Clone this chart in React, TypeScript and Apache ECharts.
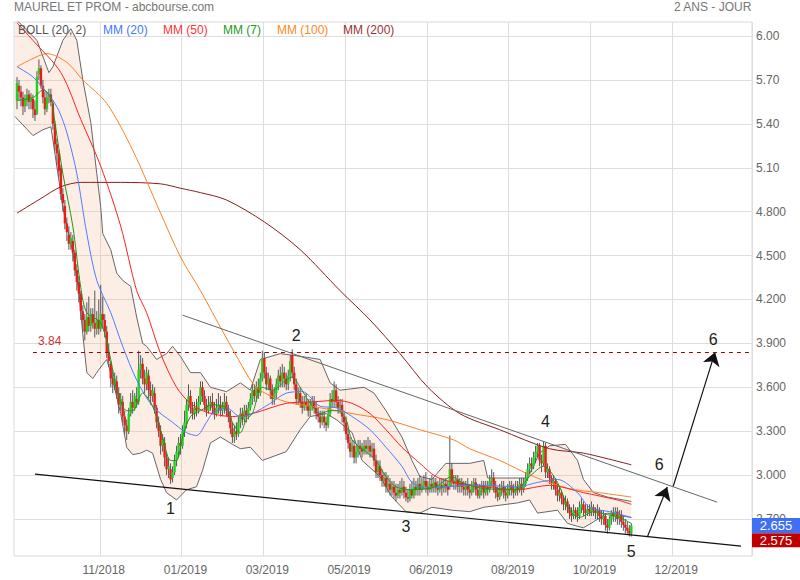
import React, { useEffect, useRef } from "react";
import * as echarts from "echarts";

// ---------- texts ----------
const chartTitle = "MAUREL ET PROM - abcbourse.com";
const periodText = "2 ANS - JOUR";
const legendNames = ["BOLL (20, 2)", "MM (20)", "MM (50)", "MM (7)", "MM (100)", "MM (200)"];

// ---------- axes ----------
const categoryCount = 370; // trading-day slots (data + future)
const xTickIndex = [43, 84, 125, 166, 207, 248, 289, 330];
const xTickLabels = ["11/2018", "01/2019", "03/2019", "05/2019", "06/2019", "08/2019", "10/2019", "12/2019"];
const yTicks = [2.7, 3.0, 3.3, 3.6, 3.9, 4.2, 4.5, 4.8, 5.1, 5.4, 5.7, 6.0];
const yMin = 2.447;
const yMax = 6.096;

// ---------- candles [open, close, low, high], first at slot candleStart ----------
const candleStart = 1;
const candles: number[][] = [
  // 1-18
  [5.56, 5.68, 5.50, 5.72], [5.66, 5.62, 5.56, 5.70], [5.62, 5.58, 5.52, 5.66], [5.58, 5.52, 5.46, 5.62],
  [5.52, 5.57, 5.48, 5.60], [5.56, 5.60, 5.52, 5.64], [5.60, 5.55, 5.50, 5.63], [5.55, 5.58, 5.50, 5.61],
  [5.57, 5.50, 5.44, 5.60], [5.50, 5.46, 5.42, 5.56], [5.47, 5.72, 5.46, 5.76], [5.74, 5.78, 5.70, 5.84],
  [5.78, 5.66, 5.64, 5.80], [5.66, 5.58, 5.54, 5.70], [5.58, 5.50, 5.46, 5.62], [5.50, 5.58, 5.48, 5.62],
  [5.58, 5.60, 5.54, 5.64], [5.60, 5.55, 5.52, 5.64],
  // 19-34
  [5.54, 5.40, 5.36, 5.56], [5.40, 5.26, 5.22, 5.42], [5.26, 5.20, 5.12, 5.30], [5.20, 5.08, 5.04, 5.22],
  [5.10, 4.92, 4.88, 5.12], [4.92, 4.86, 4.80, 4.96], [4.84, 4.72, 4.68, 4.88], [4.72, 4.66, 4.60, 4.76],
  [4.64, 4.58, 4.54, 4.70], [4.58, 4.62, 4.54, 4.66], [4.60, 4.52, 4.46, 4.64], [4.52, 4.40, 4.36, 4.54],
  [4.40, 4.32, 4.26, 4.44], [4.32, 4.24, 4.18, 4.36], [4.24, 4.12, 4.06, 4.26], [4.12, 4.06, 3.98, 4.16],
  // 35-45
  [4.06, 3.98, 3.92, 4.10], [3.98, 4.08, 3.96, 4.18], [4.08, 4.02, 3.98, 4.22], [4.02, 4.10, 3.98, 4.14],
  [4.10, 4.04, 4.00, 4.14], [4.04, 4.00, 3.94, 4.26], [4.00, 4.06, 3.96, 4.12], [4.06, 4.00, 3.96, 4.20],
  [4.00, 4.10, 3.98, 4.30], [4.10, 4.06, 4.00, 4.22], [4.06, 3.98, 3.94, 4.10],
  // 46-57
  [3.98, 3.84, 3.80, 4.02], [3.84, 3.78, 3.74, 3.90], [3.76, 3.66, 3.60, 3.78], [3.66, 3.62, 3.56, 3.72],
  [3.62, 3.66, 3.58, 3.70], [3.64, 3.56, 3.52, 3.68], [3.56, 3.48, 3.42, 3.60], [3.48, 3.52, 3.44, 3.56],
  [3.50, 3.40, 3.36, 3.54], [3.40, 3.34, 3.28, 3.44], [3.34, 3.30, 3.24, 3.38], [3.30, 3.42, 3.28, 3.46],
  // 58-72
  [3.42, 3.50, 3.40, 3.56], [3.50, 3.46, 3.42, 3.58], [3.46, 3.54, 3.44, 3.56], [3.52, 3.50, 3.46, 3.60],
  [3.50, 3.72, 3.48, 3.85], [3.72, 3.76, 3.66, 3.82], [3.76, 3.66, 3.62, 3.80], [3.66, 3.62, 3.56, 3.72],
  [3.62, 3.70, 3.58, 3.74], [3.68, 3.58, 3.52, 3.72], [3.58, 3.54, 3.48, 3.64], [3.54, 3.58, 3.50, 3.62],
  [3.56, 3.46, 3.42, 3.60], [3.46, 3.36, 3.32, 3.48], [3.36, 3.30, 3.26, 3.40],
  // 73-80
  [3.30, 3.20, 3.14, 3.34], [3.20, 3.24, 3.16, 3.28], [3.22, 3.12, 3.06, 3.26], [3.12, 3.04, 3.00, 3.16],
  [3.04, 3.06, 2.98, 3.12], [3.04, 2.97, 2.94, 3.08], [2.98, 3.02, 2.95, 3.06], [3.02, 3.10, 3.00, 3.14],
  // 81-95
  [3.10, 3.16, 3.06, 3.20], [3.16, 3.22, 3.12, 3.26], [3.22, 3.20, 3.14, 3.28], [3.20, 3.30, 3.18, 3.34],
  [3.30, 3.36, 3.26, 3.44], [3.36, 3.48, 3.32, 3.52], [3.48, 3.54, 3.44, 3.62], [3.54, 3.46, 3.42, 3.58],
  [3.46, 3.42, 3.38, 3.50], [3.42, 3.46, 3.38, 3.50], [3.46, 3.44, 3.40, 3.52], [3.44, 3.50, 3.42, 3.54],
  [3.50, 3.60, 3.48, 3.64], [3.60, 3.54, 3.50, 3.64], [3.54, 3.48, 3.44, 3.58],
  // 96-107
  [3.48, 3.44, 3.40, 3.52], [3.44, 3.48, 3.42, 3.54], [3.48, 3.50, 3.44, 3.54], [3.50, 3.46, 3.42, 3.56],
  [3.46, 3.42, 3.38, 3.50], [3.42, 3.46, 3.40, 3.52], [3.46, 3.48, 3.42, 3.56], [3.48, 3.44, 3.40, 3.54],
  [3.44, 3.47, 3.40, 3.50], [3.46, 3.50, 3.42, 3.56], [3.50, 3.44, 3.40, 3.54], [3.44, 3.40, 3.36, 3.48],
  // 108-118
  [3.40, 3.32, 3.28, 3.44], [3.32, 3.26, 3.22, 3.36], [3.26, 3.30, 3.22, 3.34], [3.30, 3.28, 3.24, 3.36],
  [3.28, 3.36, 3.26, 3.40], [3.36, 3.42, 3.32, 3.46], [3.42, 3.38, 3.34, 3.46], [3.38, 3.44, 3.36, 3.48],
  [3.44, 3.40, 3.36, 3.48], [3.40, 3.46, 3.38, 3.50], [3.46, 3.52, 3.44, 3.56],
  // 119-140
  [3.52, 3.58, 3.48, 3.62], [3.58, 3.54, 3.50, 3.62], [3.54, 3.60, 3.50, 3.64], [3.60, 3.56, 3.52, 3.66],
  [3.56, 3.66, 3.54, 3.70], [3.66, 3.80, 3.64, 3.85], [3.80, 3.70, 3.66, 3.84], [3.70, 3.62, 3.58, 3.74],
  [3.62, 3.66, 3.58, 3.70], [3.66, 3.58, 3.52, 3.68], [3.58, 3.52, 3.48, 3.62], [3.52, 3.56, 3.48, 3.60],
  [3.56, 3.62, 3.52, 3.66], [3.62, 3.68, 3.58, 3.72], [3.68, 3.64, 3.60, 3.74], [3.64, 3.70, 3.60, 3.76],
  [3.70, 3.66, 3.60, 3.74], [3.66, 3.62, 3.58, 3.70], [3.62, 3.68, 3.58, 3.72], [3.68, 3.78, 3.64, 3.82],
  [3.82, 3.70, 3.66, 3.86], [3.70, 3.62, 3.58, 3.74],
  // 141-165
  [3.62, 3.52, 3.48, 3.66], [3.52, 3.56, 3.48, 3.60], [3.56, 3.50, 3.46, 3.60], [3.50, 3.46, 3.42, 3.54],
  [3.46, 3.50, 3.44, 3.54], [3.50, 3.48, 3.44, 3.56], [3.48, 3.44, 3.40, 3.52], [3.44, 3.48, 3.40, 3.52],
  [3.48, 3.50, 3.44, 3.54], [3.50, 3.46, 3.42, 3.54], [3.46, 3.42, 3.38, 3.50], [3.42, 3.40, 3.36, 3.46],
  [3.40, 3.36, 3.32, 3.44], [3.36, 3.40, 3.34, 3.44], [3.40, 3.36, 3.32, 3.44], [3.36, 3.34, 3.30, 3.40],
  [3.34, 3.42, 3.32, 3.46], [3.42, 3.52, 3.40, 3.56], [3.52, 3.50, 3.46, 3.58], [3.50, 3.58, 3.46, 3.64],
  [3.58, 3.50, 3.46, 3.62], [3.50, 3.46, 3.42, 3.54], [3.46, 3.48, 3.42, 3.52], [3.48, 3.40, 3.36, 3.52],
  [3.40, 3.36, 3.30, 3.44],
  // 166-190
  [3.36, 3.28, 3.24, 3.40], [3.28, 3.22, 3.18, 3.32], [3.22, 3.16, 3.12, 3.26], [3.16, 3.20, 3.12, 3.24],
  [3.20, 3.12, 3.08, 3.24], [3.12, 3.16, 3.08, 3.20], [3.16, 3.20, 3.12, 3.24], [3.20, 3.18, 3.14, 3.24],
  [3.18, 3.16, 3.12, 3.22], [3.16, 3.20, 3.14, 3.24], [3.20, 3.18, 3.14, 3.24], [3.18, 3.20, 3.14, 3.26],
  [3.20, 3.16, 3.12, 3.24], [3.16, 3.18, 3.12, 3.22], [3.18, 3.10, 3.06, 3.22], [3.10, 3.02, 2.98, 3.14],
  [3.02, 3.06, 2.98, 3.10], [3.06, 3.00, 2.96, 3.10], [3.00, 2.96, 2.92, 3.04], [2.96, 2.98, 2.92, 3.02],
  [2.98, 2.92, 2.88, 3.02], [2.92, 2.94, 2.88, 3.00], [2.94, 2.90, 2.86, 2.98], [2.90, 2.92, 2.86, 2.96],
  [2.92, 2.88, 2.84, 2.96],
  // 191-217
  [2.88, 2.86, 2.82, 2.94], [2.86, 2.90, 2.84, 2.94], [2.90, 2.88, 2.84, 2.96], [2.88, 2.92, 2.86, 2.98],
  [2.92, 2.88, 2.84, 2.96], [2.88, 2.85, 2.82, 2.92], [2.85, 2.84, 2.81, 2.90], [2.84, 2.90, 2.82, 2.94],
  [2.90, 2.86, 2.84, 2.96], [2.86, 2.92, 2.84, 2.98], [2.92, 2.90, 2.86, 2.96], [2.90, 2.94, 2.86, 2.98],
  [2.94, 2.90, 2.86, 3.00], [2.90, 2.93, 2.88, 2.98], [2.93, 2.96, 2.90, 3.00], [2.96, 2.92, 2.88, 3.02],
  [2.92, 2.90, 2.86, 2.96], [2.90, 2.94, 2.88, 2.98], [2.94, 2.92, 2.88, 3.00], [2.92, 2.95, 2.88, 2.98],
  [2.95, 2.92, 2.88, 2.98], [2.92, 2.90, 2.86, 2.96], [2.90, 2.93, 2.88, 2.98], [2.93, 2.91, 2.86, 2.98],
  [2.91, 2.94, 2.88, 2.98], [2.94, 2.92, 2.88, 2.98], [2.92, 2.90, 2.86, 2.96],
  // 218-256
  [2.92, 3.04, 2.90, 3.27], [3.04, 2.96, 2.92, 3.08], [2.96, 2.94, 2.90, 3.00], [2.94, 2.97, 2.90, 3.00],
  [2.97, 2.92, 2.88, 3.00], [2.92, 2.95, 2.88, 2.98], [2.95, 2.92, 2.88, 2.98], [2.92, 2.90, 2.86, 2.96],
  [2.90, 2.93, 2.86, 2.96], [2.93, 2.90, 2.86, 2.98], [2.90, 2.88, 2.84, 2.94], [2.88, 2.92, 2.86, 2.96],
  [2.92, 2.95, 2.88, 2.98], [2.95, 2.90, 2.86, 2.98], [2.90, 2.86, 2.84, 2.94], [2.86, 2.90, 2.84, 2.94],
  [2.90, 2.93, 2.86, 2.96], [2.93, 2.88, 2.84, 2.96], [2.88, 2.92, 2.86, 2.96], [2.92, 2.90, 2.86, 2.96],
  [2.90, 2.96, 2.88, 3.00], [2.96, 2.98, 2.92, 3.04], [2.98, 2.92, 2.88, 3.02], [2.92, 2.88, 2.84, 2.96],
  [2.88, 2.85, 2.82, 2.92], [2.85, 2.90, 2.83, 2.94], [2.90, 2.92, 2.86, 2.96], [2.92, 2.88, 2.84, 2.96],
  [2.88, 2.86, 2.82, 2.92], [2.86, 2.90, 2.84, 2.94], [2.90, 2.93, 2.86, 2.96], [2.93, 2.90, 2.86, 2.96],
  [2.90, 2.88, 2.84, 2.94], [2.88, 2.92, 2.86, 2.96], [2.92, 2.90, 2.86, 2.96], [2.90, 2.94, 2.88, 2.98],
  [2.94, 2.90, 2.86, 2.98], [2.90, 2.94, 2.88, 2.98], [2.94, 2.98, 2.92, 3.02],
  // 257-268
  [2.98, 3.04, 2.96, 3.08], [3.04, 3.08, 3.00, 3.12], [3.08, 3.06, 3.02, 3.12], [3.06, 3.12, 3.04, 3.16],
  [3.12, 3.16, 3.08, 3.20], [3.16, 3.20, 3.12, 3.22], [3.20, 3.10, 3.06, 3.22], [3.10, 3.08, 3.02, 3.14],
  [3.08, 3.20, 3.06, 3.23], [3.20, 3.02, 2.98, 3.22], [3.02, 3.04, 2.98, 3.08], [3.04, 2.98, 2.94, 3.06],
  // 269-282
  [2.98, 2.94, 2.90, 3.00], [2.94, 2.96, 2.90, 3.00], [2.96, 2.90, 2.86, 2.98], [2.90, 2.86, 2.82, 2.94],
  [2.86, 2.88, 2.82, 2.92], [2.88, 2.84, 2.80, 2.90], [2.84, 2.80, 2.76, 2.86], [2.80, 2.82, 2.76, 2.86],
  [2.82, 2.78, 2.74, 2.84], [2.78, 2.74, 2.70, 2.80], [2.74, 2.72, 2.68, 2.78], [2.72, 2.76, 2.70, 2.80],
  [2.76, 2.74, 2.70, 2.78], [2.74, 2.72, 2.68, 2.78],
  // 283-309
  [2.72, 2.78, 2.70, 2.82], [2.78, 2.80, 2.74, 2.84], [2.80, 2.76, 2.72, 2.82], [2.76, 2.74, 2.70, 2.80],
  [2.74, 2.77, 2.72, 2.80], [2.77, 2.75, 2.72, 2.80], [2.75, 2.78, 2.72, 2.82], [2.78, 2.76, 2.72, 2.80],
  [2.76, 2.74, 2.70, 2.78], [2.74, 2.76, 2.70, 2.80], [2.76, 2.72, 2.68, 2.78], [2.72, 2.70, 2.66, 2.76],
  [2.70, 2.72, 2.66, 2.76], [2.72, 2.66, 2.62, 2.74], [2.66, 2.64, 2.60, 2.70], [2.64, 2.70, 2.62, 2.72],
  [2.70, 2.74, 2.66, 2.76], [2.74, 2.72, 2.68, 2.78], [2.72, 2.75, 2.68, 2.78], [2.75, 2.70, 2.66, 2.78],
  [2.70, 2.73, 2.66, 2.76], [2.73, 2.68, 2.64, 2.76], [2.68, 2.66, 2.62, 2.72], [2.66, 2.64, 2.60, 2.70],
  [2.64, 2.62, 2.60, 2.68], [2.62, 2.60, 2.58, 2.66], [2.60, 2.655, 2.58, 2.67],
];

// ---------- indicators, read as [slot, value] ----------
const mm7 = [[1,5.56],[9,5.58],[14,5.63],[18,5.58],[20,5.41],[24,5.06],[29,4.70],[33,4.28],[36,4.11],[43,4.04],[48,3.79],[51,3.58],[56,3.44],[59,3.44],[64,3.56],[69,3.47],[74,3.26],[78,3.10],[81,3.10],[84,3.26],[88,3.40],[93,3.44],[99,3.48],[106,3.46],[109,3.36],[113,3.29],[116,3.38],[119,3.42],[124,3.60],[129,3.58],[136,3.65],[139,3.67],[143,3.60],[148,3.49],[153,3.42],[158,3.44],[162,3.44],[166,3.38],[169,3.24],[176,3.16],[181,3.10],[186,2.99],[191,2.92],[199,2.90],[211,2.92],[219,2.99],[224,2.95],[234,2.91],[251,2.90],[258,2.99],[265,3.06],[272,2.95],[278,2.76],[283,2.71],[290,2.75],[297,2.73],[303,2.71],[309,2.67]];
const mm20 = [[1,5.79],[9,5.72],[18,5.58],[22,5.49],[26,5.34],[31,5.06],[36,4.65],[41,4.33],[48,4.11],[54,3.88],[61,3.65],[69,3.47],[79,3.36],[86,3.29],[91,3.27],[96,3.36],[99,3.42],[106,3.46],[113,3.40],[119,3.42],[128,3.49],[136,3.56],[144,3.57],[153,3.47],[161,3.46],[169,3.40],[178,3.31],[186,3.19],[194,3.06],[199,2.95],[206,2.91],[216,2.92],[228,2.93],[235,2.93],[252,2.92],[262,2.95],[272,2.97],[282,2.88],[288,2.78],[298,2.75],[309,2.71]];
const mm50 = [[1,6.09],[9,5.97],[23,5.75],[33,5.43],[43,5.11],[53,4.70],[61,4.26],[66,4.11],[73,3.83],[81,3.60],[88,3.49],[96,3.43],[109,3.40],[119,3.42],[136,3.49],[149,3.50],[161,3.51],[169,3.49],[178,3.42],[186,3.31],[194,3.19],[203,3.08],[211,2.99],[220,2.95],[235,2.92],[252,2.90],[268,2.93],[285,2.88],[302,2.83],[309,2.80]];
const mm100 = [[1,5.79],[8,5.84],[16,5.88],[26,5.82],[34,5.70],[46,5.54],[59,5.22],[73,4.79],[83,4.49],[93,4.26],[99,4.11],[103,4.01],[112,3.79],[119,3.63],[124,3.57],[136,3.50],[153,3.46],[169,3.42],[186,3.38],[203,3.31],[220,3.24],[228,3.18],[243,3.10],[260,2.99],[277,2.91],[293,2.88],[309,2.85]];
const mm200 = [[1,4.79],[13,4.89],[23,4.97],[33,5.00],[53,5.00],[73,4.99],[83,4.96],[93,4.93],[106,4.88],[125,4.73],[143,4.54],[163,4.26],[178,4.06],[193,3.83],[207,3.60],[223,3.42],[243,3.31],[268,3.18],[285,3.15],[309,3.07]];
const bollUpper = [[0,6.12],[6,6.04],[11,5.97],[17,5.75],[19,5.79],[24,5.97],[28,6.05],[31,5.97],[34,5.70],[38,5.41],[41,5.06],[43,4.83],[44,4.65],[48,4.54],[51,4.38],[54,4.33],[58,4.29],[61,4.08],[64,3.90],[66,3.88],[71,3.79],[76,3.83],[79,3.88],[83,3.81],[88,3.70],[93,3.70],[98,3.60],[106,3.57],[113,3.63],[118,3.58],[123,3.79],[133,3.83],[144,3.81],[153,3.79],[158,3.63],[163,3.58],[175,3.60],[180,3.56],[186,3.44],[194,3.26],[199,3.10],[203,2.99],[209,2.97],[216,3.08],[228,3.08],[235,3.10],[237,2.98],[257,2.98],[263,3.15],[268,3.20],[276,3.21],[282,3.10],[285,2.97],[290,2.88],[297,2.85],[309,2.82]];
const bollLower = [[0,5.45],[9,5.32],[14,5.36],[18,5.38],[19,5.29],[24,4.83],[29,4.52],[32,4.26],[34,3.96],[36,3.70],[39,3.66],[42,3.72],[46,3.79],[49,3.65],[53,3.42],[56,3.19],[59,3.14],[63,3.15],[66,3.17],[69,3.15],[73,2.97],[76,2.88],[81,2.83],[86,2.90],[91,2.92],[94,3.03],[98,3.22],[103,3.26],[109,3.21],[113,3.18],[118,3.19],[124,3.10],[136,3.16],[143,3.31],[148,3.40],[156,3.42],[161,3.38],[169,3.29],[174,3.10],[183,2.99],[189,2.85],[196,2.75],[203,2.74],[209,2.78],[219,2.76],[228,2.75],[235,2.78],[252,2.81],[258,2.83],[262,2.74],[272,2.76],[277,2.67],[282,2.65],[285,2.64],[290,2.68],[297,2.74],[309,2.71]];

// ---------- drawings ----------
const supportLine = [[10, 3.007], [364, 2.515]];
const resistanceLine = [[84, 4.093], [352, 2.815]];
const arrowShort = [[317, 2.576], [327, 2.918]];
const arrowLong = [[330, 2.923], [351, 3.84]];
const targetLevel = 3.84;
const targetStart = 9;
const waveLabels = [
  { name: "1", coord: [78, 2.775] },
  { name: "2", coord: [141, 3.957] },
  { name: "3", coord: [196, 2.651] },
  { name: "4", coord: [266, 3.369] },
  { name: "5", coord: [309, 2.481] },
  { name: "6", coord: [323, 3.075] },
  { name: "6", coord: [350, 3.929] },
];
const lastPrice = 2.655;
const supportPrice = 2.575;

const FONT = "'Liberation Sans', Arial, Helvetica, sans-serif";

export default function App() {
  const ref = useRef<HTMLDivElement>(null);

  useEffect(() => {
    if (!ref.current) return;
    const chart = echarts.init(ref.current, null, { renderer: "svg" });
    const categories = Array.from({ length: categoryCount }, (_, i) => String(i));
    const isTick = (index: number) => xTickIndex.indexOf(index) >= 0;
    const candleData = candles.map((c, k) => [k + candleStart, c[0], c[1], c[2], c[3]]);

    const maSeries = (name: string, data: number[][], color: string) => ({
      type: "line",
      name,
      data,
      symbol: "none",
      smooth: 0.3,
      lineStyle: { color, width: 1 },
      z: 5,
      silent: true,
    });

    const legendColors = ["#555555", "#4477ff", "#ff3333", "#229922", "#ff8822", "#993333"];
    const legendX = [18, 103, 163, 223, 277, 343];

    const arrowLine = (pts: number[][]) => [
      { coord: pts[0], symbol: "none", symbolSize: 0 },
      { coord: pts[1], symbol: "arrow", symbolSize: 13 },
    ];

    const option: any = {
      animation: false,
      textStyle: { fontFamily: FONT },
      grid: { left: 14, right: 48, top: 22, bottom: 24, show: true, borderColor: "#d9d9d9", borderWidth: 1, backgroundColor: "transparent" },
      xAxis: {
        type: "category",
        data: categories,
        boundaryGap: true,
        axisLine: { show: false },
        axisTick: { show: false },
        axisLabel: {
          interval: (index: number) => isTick(index),
          formatter: (_v: string, index: number) => {
            const k = xTickIndex.indexOf(index);
            return k >= 0 ? xTickLabels[k] : "";
          },
          color: "#666",
          fontSize: 12,
          margin: 8,
          padding: [0, 0, 0, 6],
          fontFamily: FONT,
        },
        splitLine: { show: true, interval: (index: number) => isTick(index), lineStyle: { color: "#dedede", width: 1 } },
      },
      yAxis: {
        type: "value",
        position: "right",
        min: yMin,
        max: yMax,
        axisLine: { show: false },
        axisTick: { show: false, customValues: yTicks },
        axisLabel: {
          customValues: yTicks,
          formatter: (v: number) => (v >= 5 ? v.toFixed(2) : v.toFixed(3)),
          color: "#666",
          fontSize: 12,
          margin: 4,
          fontFamily: FONT,
        },
        splitLine: { show: true, lineStyle: { color: "#dedede", width: 1 } },
      },
      graphic: [
        { type: "text", left: 14, top: 1, style: { text: chartTitle, fill: "#777", fontSize: 12, fontFamily: FONT } },
        { type: "text", right: 48, top: 1, style: { text: periodText, fill: "#777", fontSize: 12, fontFamily: FONT } },
        ...legendNames.map((n, k) => ({
          type: "text",
          x: legendX[k],
          y: 30,
          style: { text: n, fill: legendColors[k], fontSize: 12, fontFamily: FONT, textVerticalAlign: "middle" },
          z: 100,
        })),
      ],
      series: [
        {
          type: "custom",
          name: "band",
          silent: true,
          clip: true,
          z: 1,
          data: [[0, 4]],
          renderItem: (params: any, api: any) => {
            const pts: number[][] = [];
            bollUpper.forEach((p) => pts.push(api.coord(p)));
            for (let k = bollLower.length - 1; k >= 0; k--) pts.push(api.coord(bollLower[k]));
            const cs = params.coordSys;
            return {
              type: "polygon",
              shape: { points: pts },
              style: { fill: "rgba(245,170,125,0.2)", stroke: "none" },
              clipPath: { type: "rect", shape: { x: cs.x, y: cs.y, width: cs.width, height: cs.height } },
            };
          },
        },
        {
          type: "line",
          name: "bollUp",
          data: bollUpper,
          symbol: "none",
          lineStyle: { color: "#666", width: 1 },
          z: 3,
          silent: true,
        },
        {
          type: "line",
          name: "bollLow",
          data: bollLower,
          symbol: "none",
          lineStyle: { color: "#666", width: 1 },
          z: 3,
          silent: true,
        },
        {
          type: "custom",
          name: "candles",
          silent: true,
          z: 4,
          encode: { x: 0, y: [1, 2, 3, 4] },
          data: candleData,
          renderItem: (_params: any, api: any) => {
            const i = api.value(0);
            const o = api.value(1);
            const c = api.value(2);
            const l = api.value(3);
            const h = api.value(4);
            const pHi = api.coord([i, h]);
            const pLo = api.coord([i, l]);
            const pTop = api.coord([i, Math.max(o, c)]);
            const pBot = api.coord([i, Math.min(o, c)]);
            const cx = pHi[0];
            const w = 2.4;
            return {
              type: "group",
              children: [
                { type: "line", shape: { x1: cx, y1: pHi[1], x2: cx, y2: pLo[1] }, style: { stroke: "#555", lineWidth: 1 } },
                {
                  type: "rect",
                  shape: { x: cx - w / 2, y: pTop[1], width: w, height: Math.max(1, pBot[1] - pTop[1]) },
                  style: { fill: c >= o ? "#1fd21f" : "#ee1a1a" },
                },
              ],
            };
          },
        },
        maSeries("MM200", mm200, "#8b1c1c"),
        maSeries("MM100", mm100, "#ff7f24"),
        maSeries("MM50", mm50, "#ff2020"),
        maSeries("MM20", mm20, "#4d7cff"),
        maSeries("MM7", mm7, "#1e961e"),
        {
          type: "line",
          name: "resistance",
          data: resistanceLine,
          symbol: "none",
          lineStyle: { color: "#666", width: 1 },
          z: 6,
          silent: true,
        },
        {
          type: "line",
          name: "support",
          data: supportLine,
          symbol: "none",
          lineStyle: { color: "#111", width: 1.2 },
          z: 6,
          silent: true,
          clip: false,
          markLine: {
            silent: true,
            animation: false,
            symbol: ["none", "arrow"],
            symbolSize: 13,
            itemStyle: { color: "#111" },
            lineStyle: { color: "#111", width: 1.2, type: "solid" },
            label: { show: false },
            data: [arrowLine(arrowShort), arrowLine(arrowLong)],
          },
          markPoint: {
            silent: true,
            animation: false,
            data: [
              ...waveLabels.map((w) => ({
                name: w.name,
                coord: w.coord,
                symbol: "rect",
                symbolSize: 1,
                itemStyle: { color: "rgba(0,0,0,0)" },
                label: { show: true, position: "inside", formatter: w.name, color: "#222", fontSize: 16, fontFamily: FONT },
              })),
              {
                name: "last",
                coord: [categoryCount - 1, lastPrice],
                symbol: "rect",
                symbolSize: [48, 15],
                symbolOffset: [25, 0],
                itemStyle: { color: "#3f6ff5" },
                label: { show: true, position: "inside", formatter: lastPrice.toFixed(3), color: "#fff", fontSize: 13, fontFamily: FONT },
                z: 10,
              },
              {
                name: "supp",
                coord: [categoryCount - 1, supportPrice],
                symbol: "rect",
                symbolSize: [48, 14],
                symbolOffset: [25, 3],
                itemStyle: { color: "#c00000" },
                label: { show: true, position: "inside", formatter: supportPrice.toFixed(3), color: "#fff", fontSize: 13, fontFamily: FONT },
              },
            ],
          },
        },
        {
          type: "line",
          name: "target",
          data: [],
          symbol: "none",
          z: 6,
          silent: true,
          markLine: {
            silent: true,
            animation: false,
            symbol: ["none", "none"],
            lineStyle: { color: "#aa0000", width: 1, type: [4, 4] },
            label: { show: true, position: "insideStartTop", formatter: String(targetLevel), color: "#cc3333", fontSize: 12, fontFamily: FONT },
            data: [[{ coord: [targetStart, targetLevel] }, { coord: [categoryCount - 1, targetLevel] }]],
          },
        },
      ],
    };

    chart.setOption(option);
    return () => chart.dispose();
  }, []);

  return (
    <div
      ref={ref}
      style={{ position: "absolute", left: 0, top: 0, width: 800, height: 580, background: "#fff" }}
    />
  );
}
